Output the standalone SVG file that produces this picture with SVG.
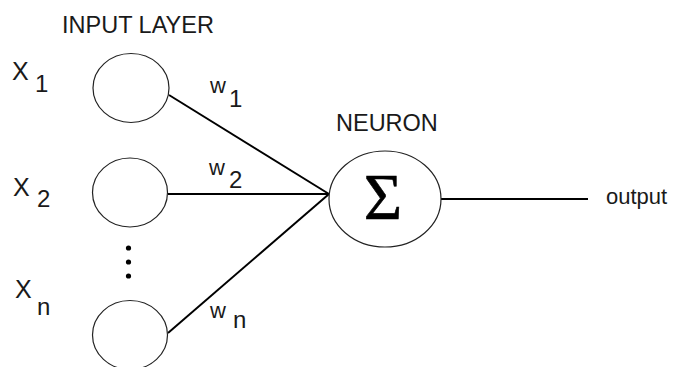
<svg xmlns="http://www.w3.org/2000/svg" width="674" height="367" viewBox="0 0 674 367">
  <style>
    .node { fill: #ffffff; stroke: #222222; stroke-width: 1.2; }
    .edge { stroke: #000000; stroke-width: 2; fill: none; }
    .title { font-family: "Liberation Sans", Arial, sans-serif; font-size: 23.5px; fill: #1a1a1a; }
    .lbl { font-family: "Liberation Sans", Arial, sans-serif; font-size: 25px; fill: #1a1a1a; }
    .wl { font-family: "Liberation Sans", Arial, sans-serif; font-size: 22px; fill: #1a1a1a; }
    .sub { font-family: "Liberation Sans", Arial, sans-serif; font-size: 24px; fill: #1a1a1a; }
    .out { font-family: "Liberation Sans", Arial, sans-serif; font-size: 22px; fill: #1a1a1a; }
    .sigma { font-family: "Liberation Serif", "Times New Roman", serif; font-size: 66px; fill: #000000; stroke: #000000; stroke-width: 0.6; }
  </style>
  <rect width="674" height="367" fill="#ffffff"/>

  <!-- headings -->
  <text class="title" x="62" y="33">INPUT LAYER</text>
  <text class="title" x="336" y="131">NEURON</text>

  <!-- connectors -->
  <g id="connectors">
    <line class="edge" x1="169" y1="95" x2="329" y2="194"/>
    <line class="edge" x1="168" y1="194" x2="329" y2="194"/>
    <line class="edge" x1="168" y1="333" x2="329" y2="194"/>
    <line class="edge" x1="441" y1="199" x2="588" y2="199"/>
  </g>

  <!-- input nodes -->
  <g id="input1">
    <ellipse class="node" cx="131" cy="88" rx="38" ry="34.5"/>
    <text class="lbl" x="12" y="80">X</text>
    <text class="sub" x="35" y="92">1</text>
  </g>
  <g id="input2">
    <ellipse class="node" cx="130" cy="192.5" rx="37.5" ry="34.5"/>
    <text class="lbl" x="13" y="196">X</text>
    <text class="sub" x="37" y="207">2</text>
  </g>
  <g id="ellipsis">
    <circle cx="128.5" cy="248" r="2.6" fill="#000"/>
    <circle cx="128.5" cy="262" r="2.6" fill="#000"/>
    <circle cx="128.5" cy="276" r="2.6" fill="#000"/>
  </g>
  <g id="inputN">
    <ellipse class="node" cx="130" cy="335" rx="37.5" ry="34.5"/>
    <text class="lbl" x="15" y="298">X</text>
    <text class="sub" x="37" y="315">n</text>
  </g>

  <!-- weights -->
  <g id="weights">
    <text class="wl" x="210" y="93">w</text>
    <text class="sub" x="229" y="107">1</text>
    <text class="wl" x="209" y="175">w</text>
    <text class="sub" x="229" y="188">2</text>
    <text class="wl" x="210" y="318">w</text>
    <text class="sub" x="233" y="328">n</text>
  </g>

  <!-- summing neuron -->
  <g id="neuron">
    <ellipse class="node" cx="385" cy="199" rx="56" ry="48"/>
    <text class="sigma" x="383" y="219" text-anchor="middle">Σ</text>
  </g>

  <g id="output">
    <text class="out" x="606" y="204">output</text>
  </g>
</svg>
